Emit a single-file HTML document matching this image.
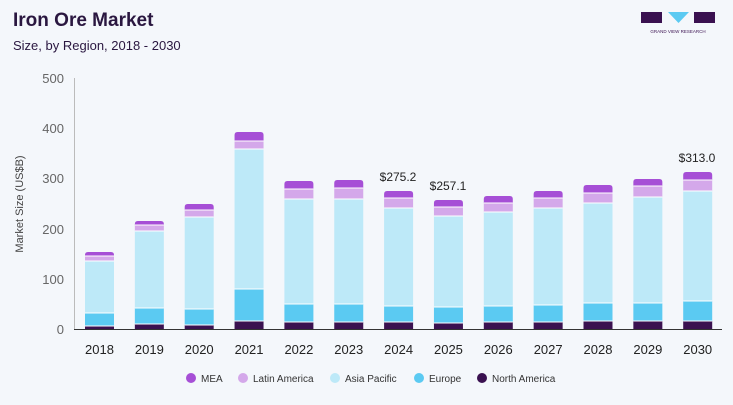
<!DOCTYPE html><html><head><meta charset="utf-8"><style>body{margin:0;background:#f4f7fb;}svg{display:block;font-family:"Liberation Sans",sans-serif}</style></head><body>
<svg width="733" height="405" viewBox="0 0 733 405">
<rect width="733" height="405" fill="#f4f7fb"/>
<text x="13" y="26" font-size="19" font-weight="bold" fill="#2a1740">Iron Ore Market</text>
<text x="13" y="50" font-size="13" fill="#2a1740">Size, by Region, 2018 - 2030</text>
<g><rect x="641" y="12" width="21" height="11" fill="#3a1150"/><path d="M668 12h21l-10.5 11z" fill="#5bcaf2"/><rect x="694" y="12" width="21" height="11" fill="#3a1150"/><text x="678" y="33" font-size="4.5" fill="#3a1150" text-anchor="middle">GRAND VIEW RESEARCH</text></g>
<g font-size="13" fill="#666" text-anchor="end"><text x="64" y="83">500</text><text x="64" y="133">400</text><text x="64" y="183">300</text><text x="64" y="234">200</text><text x="64" y="284">100</text><text x="64" y="334">0</text></g>
<text transform="translate(23,204) rotate(-90)" font-size="11" fill="#444" text-anchor="middle">Market Size (US$B)</text>
<line x1="74.5" y1="78" x2="74.5" y2="329" stroke="#bbb"/>
<g id="bars"></g>
<line x1="74" y1="329.5" x2="722" y2="329.5" stroke="#333"/>
<g font-size="13" fill="#222" text-anchor="middle" id="xl"></g>
<g font-size="12" fill="#222" text-anchor="middle"><text x="398" y="181">$275.2</text><text x="448" y="190">$257.1</text><text x="697" y="162">$313.0</text></g>
<g font-size="10" fill="#333"><circle cx="191" cy="378" r="5" fill="#a64fd6"/><text x="201" y="382">MEA</text>
<circle cx="243" cy="378" r="5" fill="#d4a8ea"/><text x="253" y="382">Latin America</text>
<circle cx="335" cy="378" r="5" fill="#bde9f8"/><text x="345" y="382">Asia Pacific</text>
<circle cx="419" cy="378" r="5" fill="#5bcaf2"/><text x="429" y="382">Europe</text>
<circle cx="482" cy="378" r="5" fill="#3a1150"/><text x="492" y="382">North America</text></g>
</svg>
<script>
var d=[[2018,252,256,261,313,326],[2019,221,225,231,308,324],[2020,204,210,217,309,325],[2021,132,141,149,289,321],[2022,181,189,199,304,322],[2023,180,188,199,304,322],[2024,191,198,208,306,322],[2025,200,207,216,307,323],[2026,196,203,212,306,322],[2027,191,198,208,305,322],[2028,185,193,203,303,321],[2029,179,186,197,303,321],[2030,172,180,191,301,321]];
var c=["#a64fd6","#d4a8ea","#bde9f8","#5bcaf2","#3a1150"];var ns="http://www.w3.org/2000/svg";
var g=document.getElementById("bars"),xl=document.getElementById("xl");
d.forEach(function(r,i){var cx=99.5+i*49.85,x=cx-14.5;var ys=r.slice(1).concat([329]);
for(var k=0;k<5;k++){var e=document.createElementNS(ns,"path");var y0=ys[k],y1=ys[k+1];
var p=k==0?"M"+x+" "+y1+"V"+(y0+3)+"q0 -3 3 -3h23q3 0 3 3V"+y1+"z":"M"+x+" "+y0+"h29V"+y1+"h-29z";
e.setAttribute("d",p);e.setAttribute("fill",c[k]);g.appendChild(e);
if(k>0){var l=document.createElementNS(ns,"rect");l.setAttribute("x",x);l.setAttribute("y",y0-0.5);l.setAttribute("width",29);l.setAttribute("height",1);l.setAttribute("fill","#fff");g.appendChild(l);}}
var t=document.createElementNS(ns,"text");t.setAttribute("x",cx);t.setAttribute("y",354);t.textContent=r[0];xl.appendChild(t);});
</script>
</body></html>
